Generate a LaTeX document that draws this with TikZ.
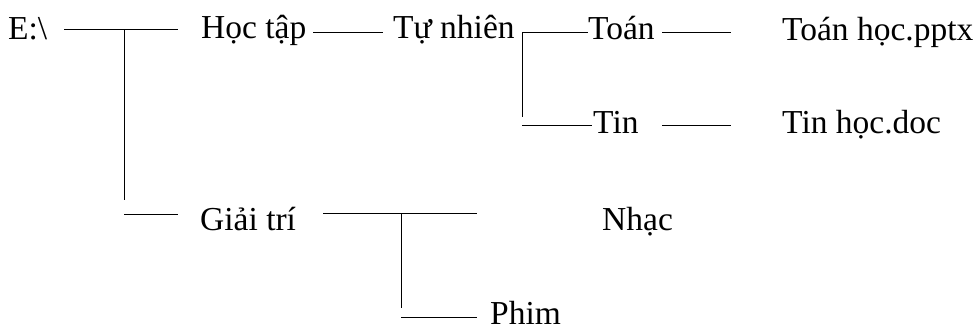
\documentclass[tikz,border=0pt]{standalone}
\usepackage{fontspec}
\setmainfont{Liberation Serif}

\begin{document}
\begin{tikzpicture}[x=1pt,y=-1pt,
    folder/.style={anchor=base west,inner sep=0pt,font=\fontsize{33.5}{40}\selectfont},
    branch/.style={line width=0.9pt}]
  \useasboundingbox (0,0) rectangle (979,327);
  % thu muc va tep
  \node[folder] (root)    at (8,39)    {E:\textbackslash};
  \node[folder] (hoctap)  at (201,38)  {Học tập};
  \node[folder] (tunhien) at (393,38)  {Tự nhiên};
  \node[folder] (toan)    at (588,39)  {Toán};
  \node[folder] (tin)     at (593,133) {Tin};
  \node[folder] (toanhoc) at (782,40)  {Toán học.pptx};
  \node[folder] (tinhoc)  at (782,133) {Tin học.doc};
  \node[folder] (giaitri) at (200,230) {Giải trí};
  \node[folder] (nhac)    at (602,230) {Nhạc};
  \node[folder] (phim)    at (490,324) {Phim};
  % diem noi
  \coordinate (e0) at (64,29);  \coordinate (e1) at (124,29);  \coordinate (e2) at (178,29);
  \coordinate (e3) at (124,200); \coordinate (e4) at (124,214); \coordinate (e5) at (178,214);
  \coordinate (h0) at (313,32); \coordinate (h1) at (383,32);
  \coordinate (t0) at (522,32); \coordinate (t1) at (588,32);
  \coordinate (t2) at (522,117); \coordinate (t3) at (522,125); \coordinate (t4) at (592,125);
  \coordinate (f0) at (662,32); \coordinate (f1) at (731,32);
  \coordinate (f2) at (662,125); \coordinate (f3) at (731,125);
  \coordinate (g0) at (323,213); \coordinate (g1) at (401,213); \coordinate (g2) at (477,213);
  \coordinate (g3) at (401,308); \coordinate (g4) at (401,317); \coordinate (g5) at (477,317);
  \foreach \a/\b in {e0/e2,e1/e3,e4/e5,h0/h1,t0/t1,t0/t2,t3/t4,f0/f1,f2/f3,g0/g2,g1/g3,g4/g5}
    \draw[branch] (\a) -- (\b);
\end{tikzpicture}
\end{document}
